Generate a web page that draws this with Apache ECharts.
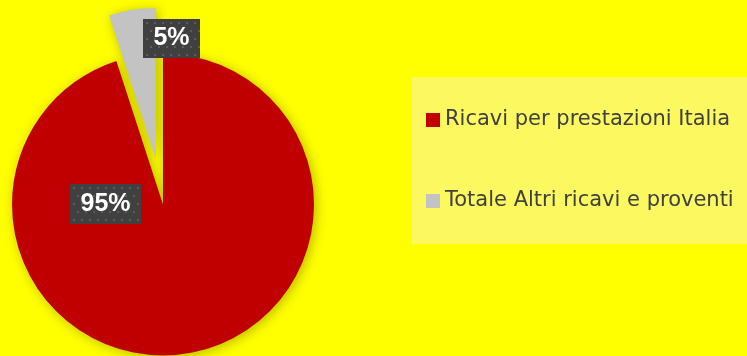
<!DOCTYPE html>
<html>
<head>
<meta charset="utf-8">
<script src="https://cdn.jsdelivr.net/npm/echarts@6/dist/echarts.min.js"></script>
<style>
  html, body { margin: 0; padding: 0; background: #ffff00; }
  #chart { width: 747px; height: 356px; }
</style>
</head>
<body>
<div id="chart"></div>
<script>
// Revenue composition
const categories = ['Ricavi per prestazioni Italia', 'Totale Altri ricavi e proventi'];
const shares = [95, 5];
const sliceColors = ['#c00000', '#c3c3c3'];

// Dark label plate with a faint dotted texture
function dottedPlate(w, h) {
  const c = document.createElement('canvas');
  c.width = w; c.height = h;
  const g = c.getContext('2d');
  g.fillStyle = '#404040';
  g.fillRect(0, 0, w, h);
  g.fillStyle = '#5c5c5c';
  for (let y = 3, row = 0; y < h; y += 8, row++) {
    for (let x = (row % 2 ? 7 : 3); x < w; x += 8) {
      g.fillRect(x, y, 2, 2);
    }
  }
  return c;
}

const labelBoxes = [
  { w: 71, h: 40, x: 105.5, y: 204 },
  { w: 57, h: 39, x: 171.5, y: 38.5 }
];

const PIE_CENTER = [163, 204.5];
const PIE_RADIUS = 151;

const chart = echarts.init(document.getElementById('chart'));

// Sectors (the small slice is pulled out)
const sectorData = categories.map((name, i) => ({
  name,
  value: shares[i],
  selected: i === 1,
  itemStyle: { color: sliceColors[i] }
}));

// Same values, invisible sectors, carrying the percentage labels
const labelData = categories.map((name, i) => ({
  name,
  value: shares[i],
  itemStyle: { color: 'rgba(0,0,0,0)' },
  label: {
    width: labelBoxes[i].w,
    height: labelBoxes[i].h,
    lineHeight: labelBoxes[i].h,
    align: 'center',
    backgroundColor: { image: dottedPlate(labelBoxes[i].w, labelBoxes[i].h) }
  }
}));

chart.setOption({
  backgroundColor: '#ffff00',
  animation: false,
  graphic: [{
    type: 'rect',
    shape: { x: 412, y: 77, width: 340, height: 167 },
    style: { fill: '#fbf95f' },
    z: -1,
    silent: true
  }],
  legend: {
    orient: 'vertical',
    left: 426,
    top: 108,
    padding: 0,
    itemGap: 57,
    itemWidth: 14,
    itemHeight: 14,
    icon: 'rect',
    selectedMode: false,
    data: categories,
    textStyle: {
      color: '#404040',
      fontFamily: 'DejaVu Sans',
      fontSize: 21,
      lineHeight: 24
    }
  },
  series: [{
    type: 'pie',
    center: PIE_CENTER,
    radius: PIE_RADIUS,
    startAngle: 90,
    clockwise: true,
    selectedMode: 'single',
    selectedOffset: 46,
    emphasis: { disabled: true },
    itemStyle: {
      shadowBlur: 12,
      shadowColor: 'rgba(0,0,0,0.28)',
      shadowOffsetX: 2,
      shadowOffsetY: 2
    },
    label: { show: false },
    labelLine: { show: false },
    data: sectorData
  }, {
    type: 'pie',
    center: PIE_CENTER,
    radius: PIE_RADIUS,
    startAngle: 90,
    clockwise: true,
    silent: true,
    z: 3,
    avoidLabelOverlap: false,
    emphasis: { disabled: true },
    label: {
      show: true,
      position: 'inside',
      formatter: '{d}%',
      color: '#ffffff',
      fontFamily: 'Liberation Sans',
      fontWeight: 'bold',
      fontSize: 25,
      shadowBlur: 4,
      shadowOffsetX: 2,
      shadowOffsetY: 2,
      shadowColor: 'rgba(0,0,0,0.45)'
    },
    labelLine: { show: false },
    labelLayout: function (p) {
      const b = labelBoxes[p.dataIndex];
      return { x: b.x, y: b.y, align: 'center', verticalAlign: 'middle' };
    },
    data: labelData
  }]
});
</script>
</body>
</html>
